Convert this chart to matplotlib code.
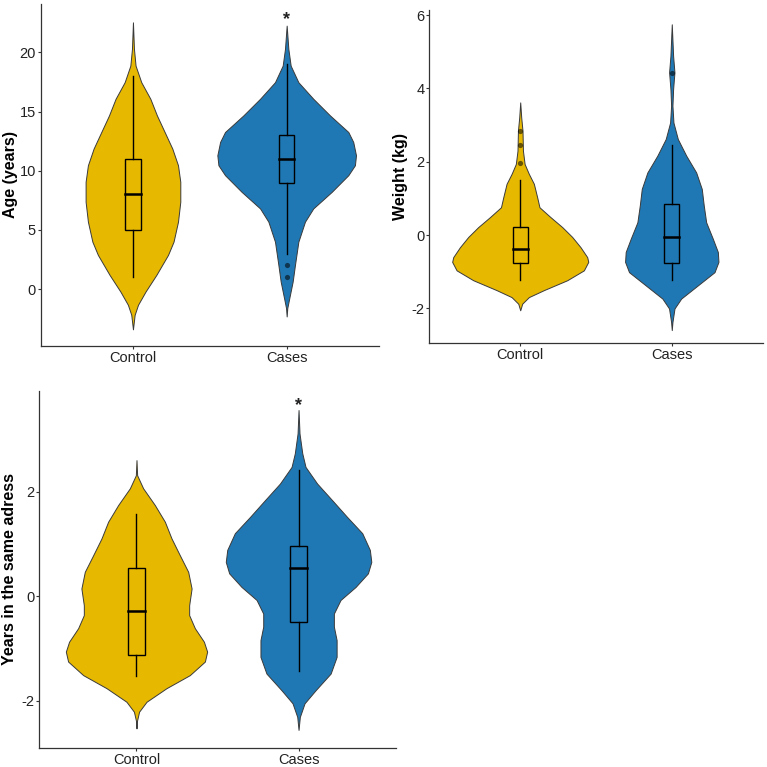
import matplotlib
matplotlib.use("Agg")
import matplotlib.pyplot as plt

plt.rcParams['font.family'] = ['Liberation Sans', 'DejaVu Sans']
plt.rcParams['axes.unicode_minus'] = False

groups = ['Control', 'Cases']
fill_colors = ['#E7B800', '#1F78B4']

# violin outlines: y level and half width (x units)
age_ctrl_y = [22.55, 20.3, 18.89, 17.49, 16.09, 14.68, 13.28, 11.88, 10.47, 9.07, 7.38, 5.7, 4.01, 2.89, 1.2, -0.2, -1.32, -2.17, -3.4]
age_ctrl_w = [0.0, 0.0065, 0.017, 0.054, 0.113, 0.156, 0.206, 0.256, 0.293, 0.308, 0.308, 0.293, 0.264, 0.228, 0.152, 0.082, 0.033, 0.011, 0.0]
age_case_y = [22.27, 20.3, 18.89, 17.49, 16.09, 14.68, 13.28, 12.44, 11.31, 10.47, 9.63, 8.22, 6.82, 5.7, 4.01, 2.05, 0.64, -0.76, -1.6, -2.31]
age_case_w = [0.0, 0.011, 0.026, 0.076, 0.173, 0.282, 0.401, 0.433, 0.451, 0.444, 0.401, 0.293, 0.173, 0.119, 0.076, 0.054, 0.039, 0.017, 0.004, 0.0]

wt_ctrl_y = [3.62, 3.21, 2.85, 2.3, 1.94, 1.67, 1.4, 1.03, 0.76, 0.49, 0.22, -0.05, -0.33, -0.6, -0.73, -0.96, -1.23, -1.5, -1.69, -1.87, -2.05]
wt_ctrl_w = [0.0, 0.0066, 0.015, 0.018, 0.029, 0.057, 0.09, 0.112, 0.127, 0.2, 0.277, 0.343, 0.398, 0.442, 0.449, 0.42, 0.31, 0.156, 0.057, 0.013, 0.0]
wt_case_y = [5.75, 4.89, 4.44, 3.98, 3.53, 3.07, 2.62, 2.17, 1.71, 1.26, 0.81, 0.35, -0.1, -0.46, -0.73, -1.01, -1.37, -1.73, -2.0, -2.37, -2.59]
wt_case_w = [0.0, 0.0088, 0.0176, 0.0088, 0.0044, 0.011, 0.04, 0.095, 0.161, 0.198, 0.211, 0.227, 0.271, 0.304, 0.308, 0.282, 0.172, 0.062, 0.018, 0.0044, 0.0]

yr_ctrl_y = [2.61, 2.32, 2.07, 1.75, 1.43, 1.11, 0.79, 0.47, 0.15, -0.17, -0.36, -0.61, -0.87, -1.06, -1.25, -1.51, -1.76, -2.02, -2.21, -2.4, -2.53]
yr_ctrl_w = [0.0, 0.004, 0.041, 0.113, 0.175, 0.216, 0.267, 0.319, 0.34, 0.325, 0.325, 0.36, 0.416, 0.436, 0.422, 0.329, 0.185, 0.062, 0.016, 0.002, 0.0]
yr_case_y = [3.57, 3.12, 2.74, 2.48, 2.16, 1.84, 1.52, 1.21, 0.89, 0.66, 0.44, 0.18, -0.07, -0.33, -0.58, -0.84, -1.16, -1.48, -1.8, -2.05, -2.31, -2.56]
yr_case_w = [0.0, 0.006, 0.023, 0.043, 0.115, 0.208, 0.3, 0.393, 0.44, 0.449, 0.428, 0.352, 0.259, 0.218, 0.218, 0.235, 0.235, 0.198, 0.105, 0.037, 0.008, 0.0]

# box plot summaries (Control, Cases)
age_q1 = [5, 9]
age_med = [8, 11]
age_q3 = [11, 13]
age_lo = [1, 3]
age_hi = [18, 19]
age_out = [[], [2, 1]]

wt_q1 = [-0.76, -0.76]
wt_med = [-0.39, -0.05]
wt_q3 = [0.23, 0.86]
wt_lo = [-1.23, -1.23]
wt_hi = [1.49, 2.47]
wt_out = [[1.98, 2.47, 2.83], [4.41]]

yr_q1 = [-1.12, -0.49]
yr_med = [-0.28, 0.54]
yr_q3 = [0.55, 0.97]
yr_lo = [-1.53, -1.44]
yr_hi = [1.58, 2.43]
yr_out = [[], []]


def draw_panel(ax, outlines, q1, med, q3, lo, hi, out, ylabel, ylim, yticks, label_x, star_y=None):
    for i, (vy, vw) in enumerate(outlines):
        pos = i + 1
        left = [pos - w for w in vw]
        right = [pos + w for w in vw]
        ax.fill_betweenx(vy, left, right, facecolor=fill_colors[i],
                         edgecolor='#3a3a3a', linewidth=0.7, zorder=2)
        bw = 0.05
        ax.plot([pos, pos], [q3[i], hi[i]], color='black', lw=1.0, zorder=3)
        ax.plot([pos, pos], [lo[i], q1[i]], color='black', lw=1.0, zorder=3)
        ax.add_patch(plt.Rectangle((pos - bw, q1[i]), 2 * bw, q3[i] - q1[i],
                                   facecolor='none', edgecolor='black', lw=1.0, zorder=3))
        ax.plot([pos - bw, pos + bw], [med[i], med[i]], color='black', lw=1.8, zorder=4)
        if out[i]:
            ax.scatter([pos] * len(out[i]), out[i], s=14, color='black', alpha=0.55,
                       linewidths=0, zorder=4)
    if star_y is not None:
        ax.text(2, star_y, '*', ha='center', va='center', fontsize=13,
                fontweight='bold', color='#222222')
    ax.set_xlim(0.4, 2.6)
    ax.set_ylim(*ylim)
    ax.set_xticks([1, 2])
    ax.set_xticklabels(groups)
    ax.set_yticks(yticks)
    ax.set_ylabel(ylabel, fontsize=11.5, fontweight='bold', color='black')
    ax.yaxis.set_label_coords(label_x, 0.5)
    for side in ['top', 'right']:
        ax.spines[side].set_visible(False)
    for side in ['left', 'bottom']:
        ax.spines[side].set_color('#333333')
        ax.spines[side].set_linewidth(0.9)
    ax.tick_params(axis='both', length=2.5, width=0.8, color='#333333',
                   labelsize=10.5, labelcolor='#222222', pad=1)


fig = plt.figure(figsize=(7.67, 7.67), dpi=100)
ax1 = fig.add_axes([0.0531, 0.549, 0.4409, 0.4458])
ax2 = fig.add_axes([0.5597, 0.5524, 0.4347, 0.4346])
ax3 = fig.add_axes([0.0512, 0.0252, 0.4648, 0.4654])

draw_panel(ax1, [(age_ctrl_y, age_ctrl_w), (age_case_y, age_case_w)],
           age_q1, age_med, age_q3, age_lo, age_hi, age_out,
           'Age (years)', (-4.8, 24.1), [0, 5, 10, 15, 20], -0.0686, star_y=22.8)
draw_panel(ax2, [(wt_ctrl_y, wt_ctrl_w), (wt_case_y, wt_case_w)],
           wt_q1, wt_med, wt_q3, wt_lo, wt_hi, wt_out,
           'Weight (kg)', (-2.95, 6.14), [-2, 0, 2, 4, 6], -0.0624)
draw_panel(ax3, [(yr_ctrl_y, yr_ctrl_w), (yr_case_y, yr_case_w)],
           yr_q1, yr_med, yr_q3, yr_lo, yr_hi, yr_out,
           'Years in the same adress', (-2.9, 3.94), [-2, 0, 2], -0.0612, star_y=3.655)

plt.savefig("out.png", dpi=100)
